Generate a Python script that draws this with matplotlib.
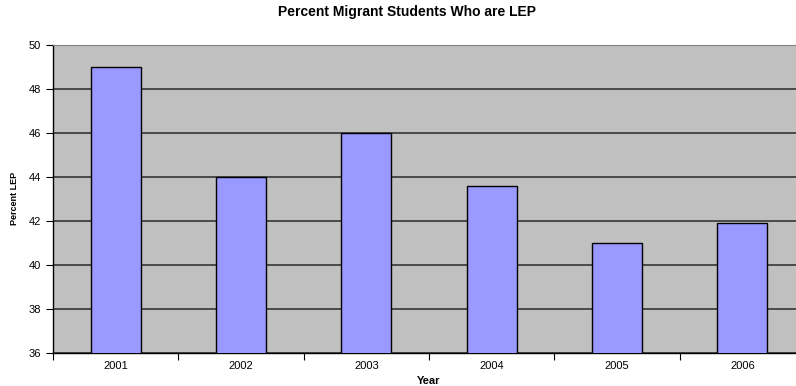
import matplotlib.pyplot as plt
import numpy as np

years = ['2001', '2002', '2003', '2004', '2005', '2006']
pct_lep = [49.0, 44.0, 46.0, 43.6, 41.0, 41.9]

title = 'Percent Migrant Students Who are LEP'
xlabel_text = 'Year'
ylabel_text = 'Percent LEP'
fontname = 'Liberation Sans'

W, H, dpi = 796, 386, 100
plt.rcParams['font.family'] = fontname

fig = plt.figure(figsize=(W / dpi, H / dpi), dpi=dpi)
# plot area runs past the right edge of the picture, like the reference
left, right, top, bottom = 53, 805, 45, 353
ax = fig.add_axes([left / W, (H - bottom) / H, (right - left) / W, (bottom - top) / H])
ax.set_facecolor('#C0C0C0')

x = np.arange(len(years))
ax.bar(x, pct_lep, width=0.4, color='#9999FF', edgecolor='black', linewidth=1.0, zorder=3)

ax.set_xlim(-0.5, len(years) - 0.5)
ax.set_ylim(36, 50)
ax.set_yticks(range(36, 51, 2))
ax.yaxis.grid(True, color='#404040', linewidth=1.3, zorder=1)
ax.set_axisbelow(True)

ax.set_xticks(x)
ax.set_xticklabels(years)
ax.set_xticks(np.arange(-0.5, len(years), 1), minor=True)
ax.tick_params(axis='x', which='major', length=0, labelsize=8, pad=6)
ax.tick_params(axis='x', which='minor', length=5, width=0.8, direction='out')
ax.tick_params(axis='y', length=5, width=0.8, labelsize=8, pad=3.5)

ax.spines['top'].set_color('#808080')
ax.spines['right'].set_visible(False)
ax.spines['left'].set_linewidth(1.0)
ax.spines['bottom'].set_linewidth(1.0)

fig.text(407 / W, 1 - 12 / H, title, ha='center', va='center', fontsize=10, weight='bold')
fig.text(429 / W, 1 - 381 / H, xlabel_text, ha='center', va='center', fontsize=8, weight='bold')
fig.text(15 / W, 1 - 198 / H, ylabel_text, ha='center', va='center', fontsize=6.5,
         weight='bold', rotation=90)

plt.savefig('out.png', dpi=dpi)
